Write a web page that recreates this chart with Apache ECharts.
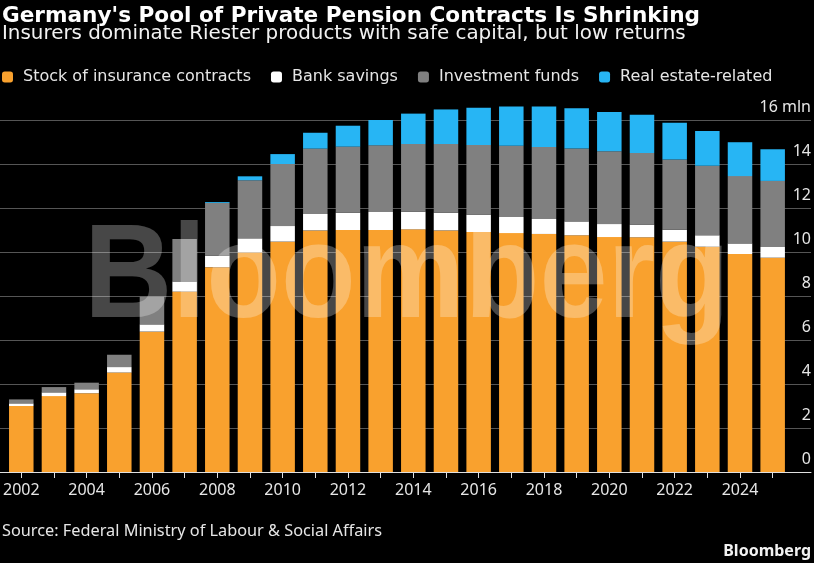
<!DOCTYPE html>
<html>
<head>
<meta charset="utf-8">
<script src="https://cdn.jsdelivr.net/npm/echarts@6/dist/echarts.min.js"></script>
<style>
html,body{margin:0;padding:0;background:#000;}
#chart{width:814px;height:563px;}
</style>
</head>
<body>
<div id="chart"></div>
<script>
const years = ['2002','2003','2004','2005','2006','2007','2008','2009','2010','2011','2012','2013','2014','2015','2016','2017','2018','2019','2020','2021','2022','2023','2024','2025'];
const insurance = [3.00,3.45,3.58,4.52,6.38,8.20,9.31,9.98,10.47,10.98,11.00,11.00,11.03,10.98,10.91,10.86,10.82,10.76,10.68,10.67,10.47,10.24,9.91,9.74];
const bankSavings = [0.12,0.17,0.18,0.25,0.33,0.46,0.52,0.64,0.71,0.75,0.79,0.82,0.80,0.81,0.79,0.73,0.68,0.63,0.59,0.57,0.54,0.52,0.48,0.49];
const investmentFunds = [0.18,0.24,0.30,0.56,1.26,1.93,2.40,2.64,2.82,2.97,3.00,3.03,3.08,3.12,3.16,3.24,3.27,3.31,3.31,3.26,3.20,3.16,3.06,3.00];
const realEstate = [0,0,0,0,0,0,0.04,0.18,0.45,0.72,0.95,1.15,1.38,1.57,1.70,1.78,1.84,1.83,1.78,1.74,1.67,1.58,1.54,1.44];
const seriesNames = ['Stock of insurance contracts','Bank savings','Investment funds','Real estate-related'];
const yMin = 0, yMax = 16, yStep = 2;
const yUnit = 'mln';

const colors = ['#f9a12e','#ffffff','#808080','#27b5f4'];
const font = '"Noto Sans", "Open Sans", sans-serif';
const wideFont = '"DejaVu Sans", Verdana, sans-serif';

const chart = echarts.init(document.getElementById('chart'));
const dataSets = [insurance, bankSavings, investmentFunds, realEstate];

chart.setOption({
  backgroundColor: '#000',
  animation: false,
  title: [
    {text: "Germany's Pool of Private Pension Contracts Is Shrinking", left: 2, top: 5, padding: 0,
     textStyle: {color: '#fff', fontSize: 21.6, fontWeight: 'bold', fontFamily: wideFont}},
    {text: 'Insurers dominate Riester products with safe capital, but low returns', left: 2, top: 24, padding: 0,
     textStyle: {color: '#f2f2f2', fontSize: 19.9, fontWeight: 'normal', fontFamily: wideFont}},
    {text: 'Source: Federal Ministry of Labour & Social Affairs', left: 2, top: 523, padding: 0,
     textStyle: {color: '#e6e6e6', fontSize: 16.3, fontWeight: 'normal', fontFamily: font}},
    {text: 'Bloomberg', right: 3, top: 543, padding: 0,
     textStyle: {color: '#f2f2f2', fontSize: 16, fontWeight: 'bold', fontFamily: font}}
  ],
  legend: {
    left: 2, top: 69, padding: 0, itemWidth: 11, itemHeight: 11, itemGap: 20,
    icon: 'roundRect',
    data: seriesNames,
    textStyle: {color: '#e6e6e6', fontSize: 16, fontFamily: wideFont, padding: [0,0,0,5]}
  },
  grid: [
    {left: 0, right: 3, top: 120, bottom: 91, containLabel: false},
    {left: 4, right: 25, top: 120, bottom: 91, containLabel: false}
  ],
  xAxis: [
    {gridIndex: 0, type: 'value', min: 0, max: 1, position: 'bottom',
     axisLine: {show: true, onZero: false, lineStyle: {color: '#e0e0e0', width: 1}},
     axisTick: {show: false}, axisLabel: {show: false}, splitLine: {show: false}},
    {gridIndex: 1, type: 'category', data: years, position: 'bottom',
     axisLine: {show: true, lineStyle: {color: '#e0e0e0', width: 1}},
     axisTick: {show: true, alignWithLabel: true, interval: 0, length: 6, lineStyle: {color: '#e0e0e0'}},
     axisLabel: {interval: 1, color: '#e6e6e6', fontSize: 16, fontFamily: font, margin: 10}}
  ],
  yAxis: [
    {gridIndex: 0, type: 'value', min: yMin, max: yMax, interval: yStep, position: 'right',
     axisLine: {show: false}, axisTick: {show: false},
     splitLine: {show: true, lineStyle: {color: '#555', width: 1}},
     axisLabel: {inside: true, margin: 0, verticalAlign: 'bottom', padding: [0,0,5,0],
       color: '#e6e6e6', fontSize: 16, fontFamily: font,
       formatter: v => v === yMax ? v + ' ' + yUnit : String(v)}},
    {gridIndex: 1, type: 'value', min: yMin, max: yMax, interval: yStep, show: false}
  ],
  graphic: [
    {type: 'text', x: 84, y: 214, z: 100, scaleX: 0.92,
     style: {text: 'Bloomberg', fontSize: 133, fontWeight: 'bold', fontFamily: '"Liberation Sans", Arial, sans-serif',
       fill: 'rgba(255,255,255,0.28)'}}
  ],
  series: seriesNames.map((name, i) => ({
    name, type: 'bar', stack: 'total', xAxisIndex: 1, yAxisIndex: 1,
    barWidth: '75%', clip: false, data: dataSets[i],
    itemStyle: {color: colors[i]}
  }))
});
</script>
</body>
</html>
